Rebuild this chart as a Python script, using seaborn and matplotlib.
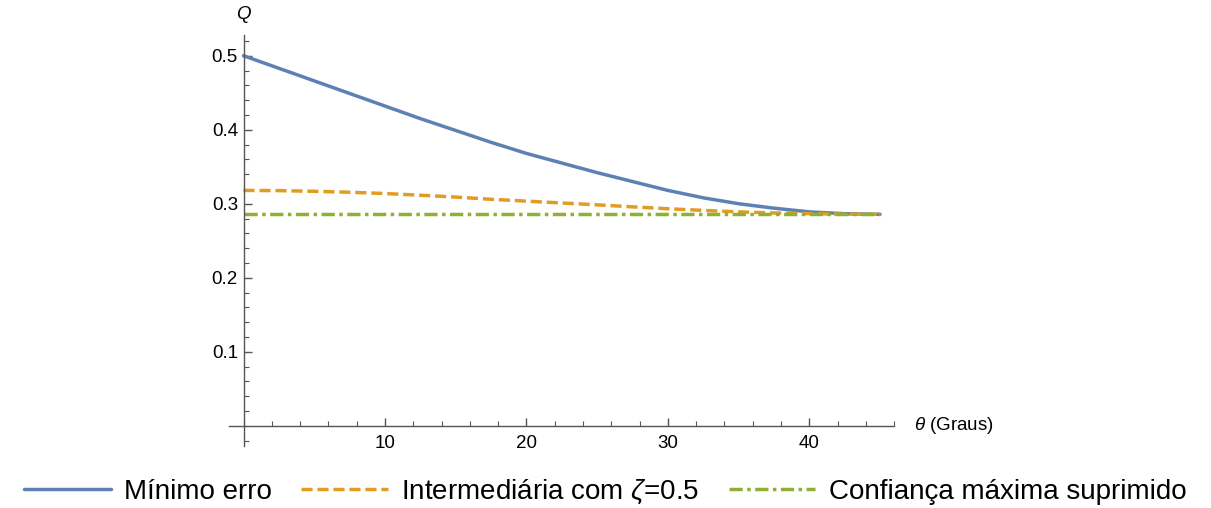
import numpy as np
import pandas as pd
import matplotlib
matplotlib.use("Agg")
from matplotlib import pyplot as plt
from matplotlib.ticker import MultipleLocator, FixedLocator
import seaborn as sns

theta = [0, 2.5, 5, 7.5, 10, 12.5, 15, 17.5, 20, 22.5, 25, 27.5, 30,
         32.5, 35, 37.5, 40, 42.5, 45]
q_min_erro = [0.500, 0.483, 0.466, 0.449, 0.432, 0.415, 0.399, 0.383, 0.368,
              0.355, 0.342, 0.330, 0.318, 0.308, 0.300, 0.294, 0.289, 0.2865,
              0.2857]
q_interm = [0.318, 0.3177, 0.3168, 0.3155, 0.3138, 0.3115, 0.309, 0.306,
            0.3035, 0.301, 0.2985, 0.2958, 0.2932, 0.291, 0.289, 0.2875,
            0.2866, 0.2859, 0.2857]
q_conf = [0.2857] * len(theta)

names = ["Mínimo erro", "Intermediária com $\\zeta$=0.5",
         "Confiança máxima suprimido"]
colors = ["#5E81B5", "#E19C24", "#8FB032"]

df = pd.concat([
    pd.DataFrame({"theta": theta, "Q": q, "serie": n})
    for q, n in zip([q_min_erro, q_interm, q_conf], names)
])

sns.set_style("white")
plt.rcParams["font.family"] = ["Liberation Sans", "DejaVu Sans"]
plt.rcParams["mathtext.fontset"] = "custom"
plt.rcParams["mathtext.it"] = "Liberation Sans:italic"
plt.rcParams["mathtext.rm"] = "Liberation Sans"
plt.rcParams["text.color"] = "black"
plt.rcParams["xtick.color"] = "#555555"
plt.rcParams["ytick.color"] = "#555555"
plt.rcParams["xtick.labelcolor"] = "black"
plt.rcParams["ytick.labelcolor"] = "black"

fig = plt.figure(figsize=(12.11, 5.08), dpi=100)
ax = fig.add_axes([0.1894, 0.1226, 0.549, 0.8085])

ax = sns.lineplot(data=df, x="theta", y="Q", hue="serie", style="serie",
                  hue_order=names, style_order=names,
                  palette=dict(zip(names, colors)),
                  dashes={names[0]: "", names[1]: (3.2, 1.4),
                          names[2]: (3.8, 1.3, 1.0, 1.3)},
                  linewidth=2.5, legend=False, ax=ax)

ax.set_xlim(-1, 46)
ax.set_ylim(-0.027, 0.528)
ax.set_xlabel("")
ax.set_ylabel("")

for s in ["top", "right"]:
    ax.spines[s].set_visible(False)
ax.spines["left"].set_position(("data", 0))
ax.spines["bottom"].set_position(("data", 0))
for s in ["left", "bottom"]:
    ax.spines[s].set_color("#555555")
    ax.spines[s].set_linewidth(1.0)

ax.xaxis.set_major_locator(FixedLocator([10, 20, 30, 40]))
ax.xaxis.set_minor_locator(MultipleLocator(2))
ax.yaxis.set_major_locator(FixedLocator([0.1, 0.2, 0.3, 0.4, 0.5]))
ax.yaxis.set_minor_locator(MultipleLocator(0.02))
ax.tick_params(axis="both", which="both", direction="in", bottom=True,
               left=True, labelsize=13.5)
ax.tick_params(axis="both", which="major", length=6, width=1)
ax.tick_params(axis="both", which="minor", length=3.5, width=0.8)
ax.tick_params(axis="x", which="major", pad=7)
ax.tick_params(axis="y", which="major", pad=4)

ax.text(0, 0.556, "$Q$", ha="center", va="center", fontsize=13.5,
        clip_on=False)
ax.annotate("$\\theta$ (Graus)", xy=(1.0, 0), xycoords=("axes fraction", "data"),
            xytext=(14, 0), textcoords="offset points", ha="left",
            va="center", fontsize=13.5)

fig.legend(ax.get_lines()[:3], names, loc="center",
           bbox_to_anchor=(0.5, 0.032), ncol=3, frameon=False, fontsize=20,
           handlelength=3.1, handletextpad=0.5, columnspacing=1.05)

fig.savefig("out.png", dpi=100)
